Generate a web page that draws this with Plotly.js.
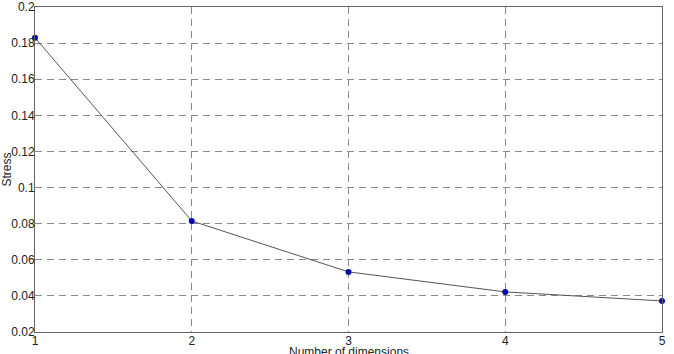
<!DOCTYPE html>
<html>
<head>
<meta charset="utf-8">
<script src="https://cdn.plot.ly/plotly-3.0.1.min.js"></script>
<style>html,body{margin:0;padding:0;background:#fff;}#chart{width:674px;height:354px;}</style>
</head>
<body>
<div id="chart"></div>
<script>
const dimensions = [1, 2, 3, 4, 5];
const stress = [0.183, 0.0815, 0.0533, 0.0422, 0.0372];
const xTicks = [1, 2, 3, 4, 5];
const yTicks = [0.02, 0.04, 0.06, 0.08, 0.1, 0.12, 0.14, 0.16, 0.18, 0.2];
const yTickText = ['0.02', '0.04', '0.06', '0.08', '0.1', '0.12', '0.14', '0.16', '0.18', '0.2'];

const trace = {
  x: dimensions, y: stress, type: 'scatter', mode: 'lines+markers',
  line: {color: '#555555', width: 1},
  marker: {color: '#0808b0', size: 6},
  cliponaxis: false
};
const font = {family: 'Liberation Sans, Arial, sans-serif', size: 12, color: '#222'};
const layout = {
  width: 674, height: 354,
  margin: {l: 35, r: 12, t: 7, b: 22, pad: 0},
  paper_bgcolor: '#fff', plot_bgcolor: '#fff',
  font: font,
  showlegend: false,
  xaxis: {
    range: [1, 5], tickvals: xTicks, ticktext: xTicks.map(String),
    showgrid: true, gridcolor: '#888', griddash: '7px,5px', gridwidth: 1,
    showline: true, linecolor: '#666', linewidth: 1, mirror: true,
    zeroline: false, ticks: '', ticklabelstandoff: -2,
    automargin: false
  },
  yaxis: {
    range: [0.02, 0.2], tickvals: yTicks, ticktext: yTickText,
    showgrid: true, gridcolor: '#888', griddash: '7px,5px', gridwidth: 1,
    showline: true, linecolor: '#666', linewidth: 1, mirror: true,
    zeroline: false, ticks: '', ticklabelstandoff: -3,
    title: {text: 'Stress', font: font, standoff: 0},
    automargin: false
  },
  annotations: [{
    text: 'Number of dimensions', xref: 'paper', yref: 'paper',
    x: 0.5, y: 0, xanchor: 'center', yanchor: 'top', yshift: -11,
    showarrow: false, font: font
  }]
};
Plotly.newPlot('chart', [trace], layout, {displayModeBar: false, staticPlot: true});
</script>
</body>
</html>
